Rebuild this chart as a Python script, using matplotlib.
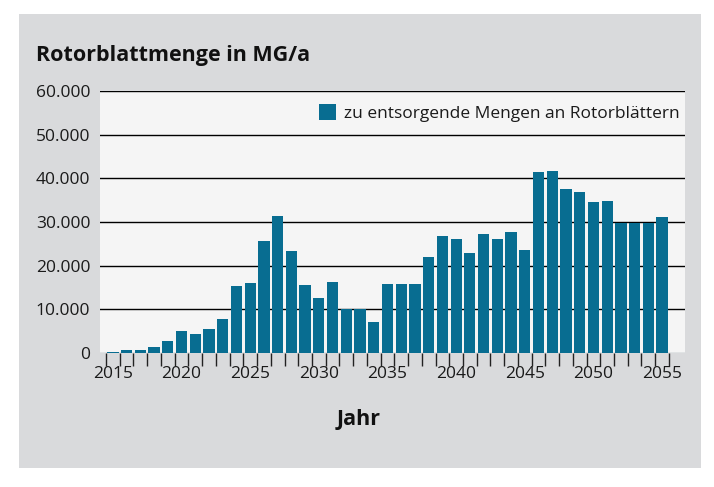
import numpy as np
import matplotlib
matplotlib.use("Agg")
import matplotlib.pyplot as plt
from matplotlib.patches import Rectangle
from matplotlib.ticker import FuncFormatter, MultipleLocator

# data
years = list(range(2015, 2056))
mengen = [300, 600, 600, 1300, 2700, 5000, 4300, 5400, 7700, 15300,
          16000, 25600, 31300, 23300, 15500, 12500, 16200, 10000, 10000, 7000,
          15900, 15700, 15700, 22000, 26700, 26100, 22900, 27300, 26100, 27800,
          23600, 41400, 41600, 37600, 36900, 34600, 34900, 29800, 29800, 29800,
          31100]
year_labels = [2015, 2020, 2025, 2030, 2035, 2040, 2045, 2050, 2055]
series_name = "zu entsorgende Mengen an Rotorblättern"

plt.rcParams['font.family'] = ['Open Sans', 'DejaVu Sans']

bar_col = '#086d91'
panel_col = '#d9dadc'

fig = plt.figure(figsize=(7.14, 4.87), dpi=100)
fig.patch.set_facecolor('white')
# grey panel behind everything
fig.patches.append(Rectangle((19/714, 1-468/487), (701-19)/714, (468-14)/487,
                             transform=fig.transFigure, facecolor=panel_col,
                             edgecolor='none', zorder=-10))

ax = fig.add_axes([100/714, 1-353/487, 585/714, 262/487])
ax.set_facecolor('#f5f5f5')

ax.bar(years, mengen, width=0.82, color=bar_col, zorder=3, label=series_name)

ax.set_xlim(2014.06, 2056.67)
ax.set_ylim(0, 60000)

# grid lines
for v in range(10000, 60001, 10000):
    ax.axhline(v, color='black', lw=1.0, zorder=1)
ax.axhline(0, color='#8a9aa3', lw=1.0, zorder=2)

ax.yaxis.set_major_locator(MultipleLocator(10000))
ax.yaxis.set_major_formatter(FuncFormatter(lambda v, p: f"{int(v):,}".replace(",", ".")))
ax.tick_params(axis='y', length=0, pad=7, labelsize=12.5, labelcolor='#1a1a1a')

ax.set_xticks(year_labels)
ax.set_xticks(np.arange(years[0] - 0.5, years[-1] + 1), minor=True)
ax.tick_params(axis='x', which='major', length=0, pad=9, labelsize=12.5, labelcolor='#1a1a1a')
ax.tick_params(axis='x', which='minor', length=9, width=1, color='#222222')

for s in ax.spines.values():
    s.set_visible(False)

leg = ax.legend(loc='center right', frameon=False, fontsize=12.5,
                handlelength=1.0, handleheight=1.0, handletextpad=0.45,
                borderaxespad=0.0, bbox_to_anchor=(1.003, 0.916))
for t in leg.get_texts():
    t.set_color('#1a1a1a')

fig.text(36/714, 1-55/487, "Rotorblattmenge in MG/a", fontsize=15.5,
         fontweight='bold', va='center', ha='left', color='#111111')
fig.text(359/714, 1-420/487, "Jahr", fontsize=15.5, fontweight='bold',
         va='center', ha='center', color='#111111')

fig.savefig("out.png", dpi=100)
